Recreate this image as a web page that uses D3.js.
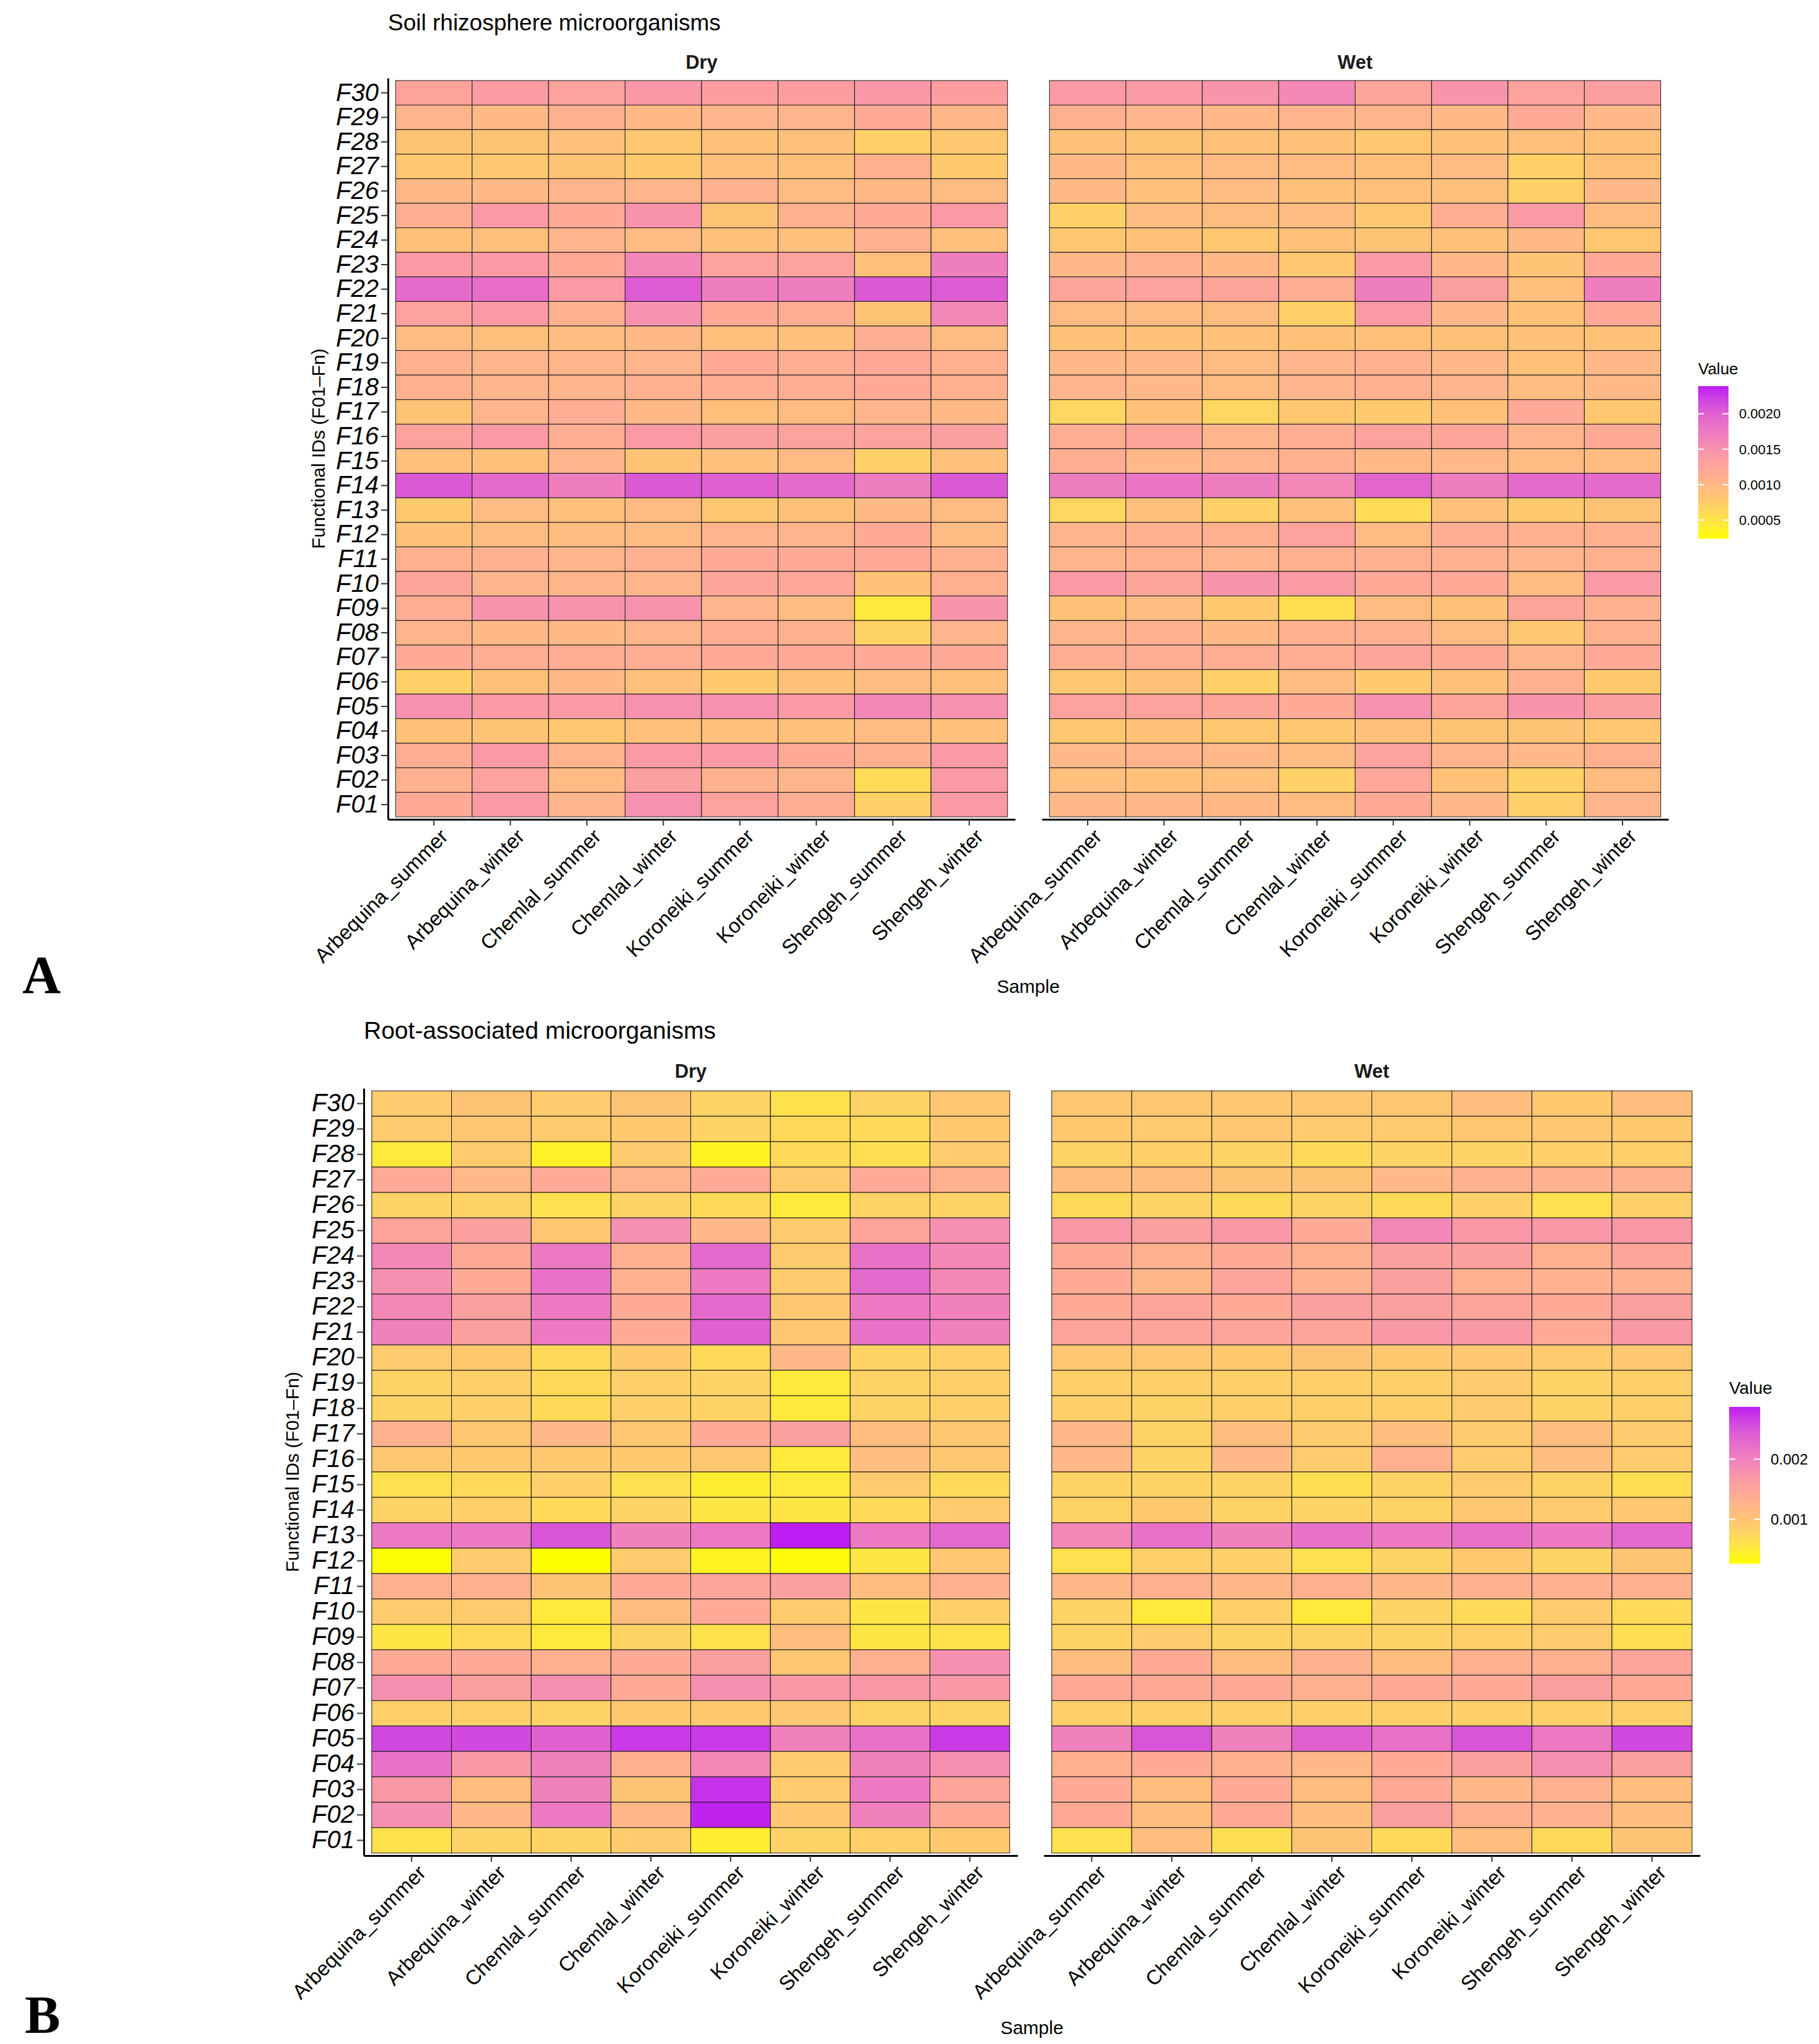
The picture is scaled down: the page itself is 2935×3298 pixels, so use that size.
<!DOCTYPE html>
<html>
<head>
<meta charset="utf-8">
<script src="https://cdn.jsdelivr.net/npm/d3@7/dist/d3.min.js"></script>
<style>
  body { margin: 0; background: #fff; }
  text { font-family: "Liberation Sans", Arial, sans-serif; fill: #000; }
</style>
</head>
<body>
<svg id="chart"></svg>
<script>
'use strict';

// sample order on the x axis
var samples = ['Arbequina_summer', 'Arbequina_winter', 'Chemlal_summer', 'Chemlal_winter',
               'Koroneiki_summer', 'Koroneiki_winter', 'Shengeh_summer', 'Shengeh_winter'];

// functional IDs, top row first (as drawn)
var funcIds = ['F30', 'F29', 'F28', 'F27', 'F26', 'F25', 'F24', 'F23', 'F22', 'F21',
               'F20', 'F19', 'F18', 'F17', 'F16', 'F15', 'F14', 'F13', 'F12', 'F11',
               'F10', 'F09', 'F08', 'F07', 'F06', 'F05', 'F04', 'F03', 'F02', 'F01'];

// rows follow funcIds, columns follow samples
var soilDry = [
  [0.00128, 0.00138, 0.00130, 0.00142, 0.00136, 0.00136, 0.00142, 0.00136],
  [0.00105, 0.00100, 0.00110, 0.00100, 0.00105, 0.00105, 0.00120, 0.00103],
  [0.00085, 0.00085, 0.00090, 0.00080, 0.00088, 0.00090, 0.00070, 0.00080],
  [0.00080, 0.00080, 0.00085, 0.00078, 0.00090, 0.00090, 0.00110, 0.00078],
  [0.00100, 0.00100, 0.00105, 0.00105, 0.00110, 0.00097, 0.00100, 0.00097],
  [0.00115, 0.00140, 0.00120, 0.00148, 0.00085, 0.00110, 0.00120, 0.00140],
  [0.00088, 0.00092, 0.00105, 0.00097, 0.00088, 0.00092, 0.00110, 0.00092],
  [0.00140, 0.00140, 0.00120, 0.00160, 0.00130, 0.00130, 0.00090, 0.00170],
  [0.00190, 0.00188, 0.00140, 0.00203, 0.00170, 0.00170, 0.00205, 0.00203],
  [0.00130, 0.00140, 0.00110, 0.00150, 0.00120, 0.00115, 0.00085, 0.00160],
  [0.00095, 0.00092, 0.00095, 0.00100, 0.00092, 0.00090, 0.00115, 0.00095],
  [0.00110, 0.00105, 0.00105, 0.00105, 0.00118, 0.00115, 0.00120, 0.00110],
  [0.00110, 0.00105, 0.00105, 0.00110, 0.00115, 0.00115, 0.00120, 0.00110],
  [0.00085, 0.00105, 0.00115, 0.00100, 0.00090, 0.00095, 0.00105, 0.00100],
  [0.00130, 0.00140, 0.00115, 0.00140, 0.00135, 0.00130, 0.00130, 0.00135],
  [0.00092, 0.00088, 0.00105, 0.00085, 0.00092, 0.00097, 0.00070, 0.00092],
  [0.00205, 0.00190, 0.00170, 0.00205, 0.00200, 0.00190, 0.00170, 0.00205],
  [0.00078, 0.00097, 0.00092, 0.00097, 0.00080, 0.00088, 0.00100, 0.00097],
  [0.00088, 0.00095, 0.00095, 0.00097, 0.00105, 0.00105, 0.00118, 0.00097],
  [0.00110, 0.00110, 0.00105, 0.00110, 0.00118, 0.00118, 0.00120, 0.00110],
  [0.00125, 0.00105, 0.00105, 0.00105, 0.00125, 0.00122, 0.00087, 0.00110],
  [0.00115, 0.00148, 0.00148, 0.00148, 0.00105, 0.00095, 0.00045, 0.00145],
  [0.00105, 0.00100, 0.00100, 0.00105, 0.00115, 0.00110, 0.00068, 0.00105],
  [0.00118, 0.00115, 0.00115, 0.00115, 0.00120, 0.00118, 0.00118, 0.00118],
  [0.00070, 0.00088, 0.00100, 0.00090, 0.00078, 0.00087, 0.00095, 0.00090],
  [0.00150, 0.00140, 0.00140, 0.00150, 0.00150, 0.00140, 0.00160, 0.00150],
  [0.00087, 0.00085, 0.00080, 0.00090, 0.00090, 0.00090, 0.00097, 0.00090],
  [0.00115, 0.00140, 0.00105, 0.00140, 0.00140, 0.00118, 0.00110, 0.00140],
  [0.00110, 0.00130, 0.00097, 0.00135, 0.00110, 0.00105, 0.00060, 0.00140],
  [0.00118, 0.00140, 0.00105, 0.00150, 0.00130, 0.00115, 0.00070, 0.00140]
];

var soilWet = [
  [0.00140, 0.00140, 0.00145, 0.00160, 0.00125, 0.00145, 0.00130, 0.00135],
  [0.00110, 0.00105, 0.00102, 0.00105, 0.00105, 0.00100, 0.00118, 0.00102],
  [0.00088, 0.00085, 0.00088, 0.00088, 0.00080, 0.00087, 0.00090, 0.00088],
  [0.00100, 0.00092, 0.00097, 0.00097, 0.00090, 0.00097, 0.00070, 0.00088],
  [0.00100, 0.00092, 0.00097, 0.00088, 0.00092, 0.00092, 0.00070, 0.00102],
  [0.00070, 0.00095, 0.00095, 0.00095, 0.00080, 0.00115, 0.00140, 0.00095],
  [0.00080, 0.00088, 0.00080, 0.00088, 0.00085, 0.00088, 0.00100, 0.00080],
  [0.00102, 0.00110, 0.00100, 0.00080, 0.00140, 0.00102, 0.00085, 0.00120],
  [0.00125, 0.00130, 0.00125, 0.00115, 0.00170, 0.00135, 0.00092, 0.00170],
  [0.00097, 0.00097, 0.00095, 0.00070, 0.00140, 0.00102, 0.00087, 0.00120],
  [0.00087, 0.00087, 0.00087, 0.00087, 0.00088, 0.00088, 0.00087, 0.00087],
  [0.00102, 0.00102, 0.00097, 0.00105, 0.00110, 0.00102, 0.00087, 0.00102],
  [0.00105, 0.00102, 0.00097, 0.00105, 0.00110, 0.00105, 0.00095, 0.00100],
  [0.00065, 0.00088, 0.00065, 0.00080, 0.00078, 0.00088, 0.00120, 0.00080],
  [0.00115, 0.00125, 0.00105, 0.00115, 0.00130, 0.00125, 0.00105, 0.00120],
  [0.00115, 0.00102, 0.00105, 0.00110, 0.00100, 0.00102, 0.00097, 0.00095],
  [0.00170, 0.00180, 0.00170, 0.00160, 0.00195, 0.00170, 0.00190, 0.00190],
  [0.00065, 0.00090, 0.00070, 0.00092, 0.00060, 0.00090, 0.00078, 0.00085],
  [0.00105, 0.00110, 0.00110, 0.00130, 0.00097, 0.00115, 0.00110, 0.00110],
  [0.00105, 0.00110, 0.00105, 0.00110, 0.00110, 0.00110, 0.00105, 0.00110],
  [0.00140, 0.00125, 0.00145, 0.00138, 0.00120, 0.00118, 0.00095, 0.00140],
  [0.00087, 0.00095, 0.00078, 0.00055, 0.00095, 0.00087, 0.00125, 0.00110],
  [0.00105, 0.00110, 0.00100, 0.00110, 0.00110, 0.00097, 0.00080, 0.00110],
  [0.00115, 0.00115, 0.00115, 0.00115, 0.00125, 0.00118, 0.00105, 0.00118],
  [0.00080, 0.00088, 0.00070, 0.00095, 0.00078, 0.00088, 0.00110, 0.00078],
  [0.00130, 0.00130, 0.00125, 0.00120, 0.00150, 0.00125, 0.00145, 0.00135],
  [0.00080, 0.00087, 0.00080, 0.00080, 0.00090, 0.00085, 0.00085, 0.00080],
  [0.00102, 0.00105, 0.00102, 0.00097, 0.00130, 0.00105, 0.00102, 0.00110],
  [0.00092, 0.00088, 0.00092, 0.00070, 0.00122, 0.00087, 0.00070, 0.00095],
  [0.00102, 0.00102, 0.00100, 0.00095, 0.00120, 0.00102, 0.00072, 0.00105]
];

var rootDry = [
  [0.00090, 0.00100, 0.00090, 0.00100, 0.00080, 0.00060, 0.00080, 0.00095],
  [0.00090, 0.00095, 0.00090, 0.00092, 0.00080, 0.00070, 0.00070, 0.00092],
  [0.00050, 0.00090, 0.00042, 0.00090, 0.00040, 0.00070, 0.00065, 0.00090],
  [0.00140, 0.00120, 0.00140, 0.00125, 0.00140, 0.00090, 0.00140, 0.00130],
  [0.00080, 0.00080, 0.00062, 0.00080, 0.00070, 0.00050, 0.00080, 0.00080],
  [0.00150, 0.00160, 0.00095, 0.00180, 0.00120, 0.00090, 0.00150, 0.00180],
  [0.00190, 0.00140, 0.00210, 0.00130, 0.00230, 0.00090, 0.00220, 0.00190],
  [0.00180, 0.00140, 0.00220, 0.00130, 0.00210, 0.00090, 0.00230, 0.00190],
  [0.00190, 0.00160, 0.00210, 0.00140, 0.00230, 0.00095, 0.00210, 0.00200],
  [0.00200, 0.00160, 0.00210, 0.00140, 0.00240, 0.00095, 0.00220, 0.00200],
  [0.00090, 0.00092, 0.00070, 0.00092, 0.00070, 0.00120, 0.00080, 0.00085],
  [0.00080, 0.00085, 0.00070, 0.00085, 0.00080, 0.00050, 0.00080, 0.00085],
  [0.00080, 0.00085, 0.00070, 0.00085, 0.00080, 0.00050, 0.00080, 0.00085],
  [0.00130, 0.00095, 0.00120, 0.00095, 0.00140, 0.00160, 0.00110, 0.00095],
  [0.00095, 0.00092, 0.00092, 0.00092, 0.00095, 0.00050, 0.00110, 0.00095],
  [0.00062, 0.00070, 0.00085, 0.00062, 0.00045, 0.00050, 0.00090, 0.00070],
  [0.00080, 0.00085, 0.00070, 0.00080, 0.00055, 0.00055, 0.00070, 0.00090],
  [0.00210, 0.00210, 0.00250, 0.00200, 0.00210, 0.00287, 0.00210, 0.00230],
  [0.00028, 0.00090, 0.00026, 0.00090, 0.00040, 0.00030, 0.00055, 0.00095],
  [0.00130, 0.00130, 0.00100, 0.00140, 0.00150, 0.00160, 0.00110, 0.00130],
  [0.00090, 0.00090, 0.00050, 0.00110, 0.00140, 0.00090, 0.00055, 0.00085],
  [0.00055, 0.00070, 0.00050, 0.00080, 0.00060, 0.00110, 0.00055, 0.00060],
  [0.00140, 0.00140, 0.00130, 0.00140, 0.00160, 0.00095, 0.00130, 0.00180],
  [0.00180, 0.00160, 0.00180, 0.00140, 0.00180, 0.00170, 0.00170, 0.00170],
  [0.00085, 0.00085, 0.00080, 0.00092, 0.00092, 0.00095, 0.00080, 0.00080],
  [0.00260, 0.00260, 0.00240, 0.00270, 0.00270, 0.00200, 0.00220, 0.00270],
  [0.00220, 0.00170, 0.00200, 0.00130, 0.00190, 0.00090, 0.00200, 0.00180],
  [0.00170, 0.00110, 0.00200, 0.00100, 0.00275, 0.00090, 0.00210, 0.00150],
  [0.00180, 0.00120, 0.00210, 0.00120, 0.00284, 0.00095, 0.00200, 0.00140],
  [0.00060, 0.00080, 0.00080, 0.00090, 0.00045, 0.00080, 0.00085, 0.00092]
];

var rootWet = [
  [0.00095, 0.00095, 0.00095, 0.00095, 0.00095, 0.00110, 0.00092, 0.00110],
  [0.00092, 0.00090, 0.00095, 0.00090, 0.00090, 0.00095, 0.00095, 0.00092],
  [0.00080, 0.00085, 0.00080, 0.00070, 0.00080, 0.00080, 0.00085, 0.00085],
  [0.00110, 0.00110, 0.00100, 0.00100, 0.00120, 0.00130, 0.00130, 0.00130],
  [0.00070, 0.00080, 0.00070, 0.00080, 0.00070, 0.00085, 0.00062, 0.00085],
  [0.00170, 0.00160, 0.00170, 0.00140, 0.00190, 0.00170, 0.00170, 0.00170],
  [0.00140, 0.00130, 0.00140, 0.00130, 0.00160, 0.00160, 0.00130, 0.00150],
  [0.00140, 0.00120, 0.00150, 0.00130, 0.00160, 0.00130, 0.00130, 0.00130],
  [0.00140, 0.00150, 0.00140, 0.00160, 0.00160, 0.00150, 0.00140, 0.00160],
  [0.00150, 0.00150, 0.00150, 0.00150, 0.00170, 0.00170, 0.00140, 0.00170],
  [0.00095, 0.00095, 0.00092, 0.00100, 0.00092, 0.00095, 0.00090, 0.00095],
  [0.00085, 0.00085, 0.00085, 0.00085, 0.00085, 0.00090, 0.00080, 0.00085],
  [0.00085, 0.00080, 0.00085, 0.00085, 0.00085, 0.00090, 0.00080, 0.00085],
  [0.00120, 0.00080, 0.00110, 0.00090, 0.00110, 0.00090, 0.00110, 0.00090],
  [0.00120, 0.00080, 0.00120, 0.00090, 0.00130, 0.00090, 0.00110, 0.00090],
  [0.00080, 0.00080, 0.00080, 0.00065, 0.00080, 0.00090, 0.00080, 0.00065],
  [0.00080, 0.00092, 0.00080, 0.00080, 0.00080, 0.00095, 0.00090, 0.00095],
  [0.00190, 0.00220, 0.00200, 0.00220, 0.00210, 0.00220, 0.00210, 0.00230],
  [0.00062, 0.00085, 0.00085, 0.00062, 0.00080, 0.00092, 0.00080, 0.00100],
  [0.00120, 0.00130, 0.00120, 0.00130, 0.00120, 0.00130, 0.00130, 0.00130],
  [0.00080, 0.00050, 0.00085, 0.00050, 0.00080, 0.00070, 0.00090, 0.00070],
  [0.00080, 0.00090, 0.00080, 0.00080, 0.00080, 0.00085, 0.00090, 0.00065],
  [0.00110, 0.00140, 0.00110, 0.00130, 0.00110, 0.00130, 0.00130, 0.00150],
  [0.00140, 0.00140, 0.00140, 0.00130, 0.00140, 0.00140, 0.00160, 0.00140],
  [0.00085, 0.00085, 0.00085, 0.00085, 0.00085, 0.00085, 0.00085, 0.00085],
  [0.00200, 0.00250, 0.00200, 0.00240, 0.00220, 0.00250, 0.00210, 0.00260],
  [0.00130, 0.00140, 0.00130, 0.00120, 0.00140, 0.00160, 0.00180, 0.00160],
  [0.00140, 0.00110, 0.00140, 0.00110, 0.00140, 0.00120, 0.00130, 0.00110],
  [0.00140, 0.00110, 0.00140, 0.00110, 0.00160, 0.00130, 0.00130, 0.00110],
  [0.00062, 0.00110, 0.00065, 0.00100, 0.00070, 0.00110, 0.00070, 0.00100]
];

// colour bar limits and breaks, read from the two legends
var soilLimits = [0.00024, 0.00239];
var rootLimits = [0.00026, 0.00287];
var soilBreaks = [0.0005, 0.0010, 0.0015, 0.0020];
var rootBreaks = [0.001, 0.002];

// gradient (relative position along the bar -> colour)
var gradStops  = [0, 0.10, 0.20, 0.28, 0.36, 0.45, 0.52, 0.59, 0.67, 0.75, 0.82, 0.90, 1];
var gradColors = ['#ffff00', '#ffe840', '#ffd464', '#ffc474', '#ffb888', '#ffa898', '#fc9ea0',
                  '#f690b0', '#f080be', '#e870c8', '#e060d0', '#d048e0', '#be1ef2'];

var W = 2935, H = 3298;

var svg = d3.select('#chart')
    .attr('width', W)
    .attr('height', H)
    .attr('viewBox', '0 0 ' + W + ' ' + H);

svg.append('rect').attr('width', W).attr('height', H).attr('fill', '#fff');

function colourScale(limits) {
    var dom = gradStops.map(function (t) { return limits[0] + t * (limits[1] - limits[0]); });
    return d3.scaleLinear().domain(dom).range(gradColors).clamp(true);
}

function heatmap(cfg) {
    var g = svg.append('g');
    var colour = colourScale(cfg.limits);

    var y = d3.scaleBand()
        .domain(funcIds)
        .range(cfg.yRange)
        .paddingInner(0)
        .paddingOuter(0.1);

    // title
    g.append('text')
        .attr('x', cfg.panels[0].x[0])
        .attr('y', cfg.titleY)
        .style('font-size', cfg.titleSize + 'px')
        .text(cfg.title);

    cfg.panels.forEach(function (p, pi) {
        var x = d3.scaleBand()
            .domain(samples)
            .range(p.x)
            .paddingInner(0)
            .paddingOuter(0.1);

        // strip label
        g.append('text')
            .attr('x', (p.x[0] + p.x[1]) / 2)
            .attr('y', cfg.stripY)
            .attr('text-anchor', 'middle')
            .style('font-size', '31px')
            .style('font-weight', 'bold')
            .style('fill', '#1a1a1a')
            .text(p.name);

        var cells = [];
        p.values.forEach(function (row, ri) {
            row.forEach(function (v, ci) {
                cells.push({ id: funcIds[ri], sample: samples[ci], value: v });
            });
        });

        g.append('g')
            .selectAll('rect')
            .data(cells)
            .enter()
            .append('rect')
            .attr('x', function (d) { return x(d.sample); })
            .attr('y', function (d) { return y(d.id); })
            .attr('width', x.bandwidth())
            .attr('height', y.bandwidth())
            .attr('fill', function (d) { return colour(d.value); })
            .attr('stroke', '#1a1a1a')
            .attr('stroke-width', 1);

        // x axis
        var xAxis = g.append('g')
            .attr('transform', 'translate(0,' + cfg.yRange[1] + ')')
            .call(d3.axisBottom(x).tickSize(10).tickSizeOuter(0).tickPadding(0));
        xAxis.select('.domain').attr('stroke', '#000').attr('stroke-width', 3);
        xAxis.selectAll('.tick line').attr('stroke', '#333').attr('stroke-width', 2);
        xAxis.selectAll('.tick text').remove();
        xAxis.selectAll('.tick')
            .append('text')
            .attr('transform', 'translate(8,' + cfg.xLabelGap + ') rotate(-45)')
            .attr('text-anchor', 'end')
            .attr('dy', '0.72em')
            .style('font-size', '33px')
            .style('fill', '#000')
            .text(function (d) { return d; });

        // y axis only on the first panel
        if (pi === 0) {
            var yAxis = g.append('g')
                .attr('transform', 'translate(' + p.x[0] + ',0)')
                .call(d3.axisLeft(y).tickSize(11).tickSizeOuter(0).tickPadding(4));
            yAxis.select('.domain').attr('stroke', '#000').attr('stroke-width', 3);
            yAxis.selectAll('.tick line').attr('stroke', '#333').attr('stroke-width', 2);
            yAxis.selectAll('.tick text')
                .style('font-size', '40px')
                .style('font-style', 'italic')
                .style('fill', '#000')
                .attr('font-family', null);
        }
    });

    // axis titles
    g.append('text')
        .attr('transform', 'translate(' + cfg.yTitleX + ',' + ((cfg.yRange[0] + cfg.yRange[1]) / 2) + ') rotate(-90)')
        .attr('text-anchor', 'middle')
        .attr('dy', '0.35em')
        .style('font-size', '30px')
        .text('Functional IDs (F01\u2013Fn)');

    g.append('text')
        .attr('x', (cfg.panels[0].x[0] + cfg.panels[1].x[1]) / 2)
        .attr('y', cfg.sampleY)
        .attr('text-anchor', 'middle')
        .style('font-size', '30px')
        .text('Sample');

    // panel letter
    g.append('text')
        .attr('x', cfg.letterX)
        .attr('y', cfg.letterY)
        .style('font-family', '"Liberation Serif", "DejaVu Serif", serif')
        .style('font-weight', 'bold')
        .style('font-size', '86px')
        .text(cfg.letter);

    // colour bar legend
    var lg = cfg.legend;
    var gradId = 'grad' + cfg.letter;
    var grad = svg.append('defs').append('linearGradient')
        .attr('id', gradId)
        .attr('x1', '0').attr('y1', '1').attr('x2', '0').attr('y2', '0');
    grad.selectAll('stop')
        .data(gradStops)
        .enter()
        .append('stop')
        .attr('offset', function (d) { return d; })
        .attr('stop-color', function (d, i) { return gradColors[i]; });

    g.append('text')
        .attr('x', lg.x)
        .attr('y', lg.titleY)
        .style('font-size', lg.titleSize + 'px')
        .text('Value');

    g.append('rect')
        .attr('x', lg.x)
        .attr('y', lg.y0)
        .attr('width', lg.w)
        .attr('height', lg.y1 - lg.y0)
        .attr('fill', 'url(#' + gradId + ')');

    var ly = d3.scaleLinear().domain(cfg.limits).range([lg.y1, lg.y0]);
    var ticks = g.append('g').selectAll('g')
        .data(cfg.breaks)
        .enter()
        .append('g')
        .attr('transform', function (d) { return 'translate(0,' + ly(d) + ')'; });
    ticks.append('line')
        .attr('x1', lg.x).attr('x2', lg.x + lg.w * 0.2)
        .attr('stroke', '#fff').attr('stroke-width', 2);
    ticks.append('line')
        .attr('x1', lg.x + lg.w * 0.8).attr('x2', lg.x + lg.w)
        .attr('stroke', '#fff').attr('stroke-width', 2);
    ticks.append('text')
        .attr('x', lg.x + lg.w + 17)
        .attr('dy', '0.35em')
        .style('font-size', lg.labelSize + 'px')
        .text(function (d) { return d3.format(cfg.breakFormat)(d); });
}

heatmap({
    title: 'Soil rhizosphere microorganisms',
    titleY: 49,
    titleSize: 37,
    stripY: 111,
    yRange: [126, 1322],
    panels: [
        { name: 'Dry', x: [626, 1638], values: soilDry },
        { name: 'Wet', x: [1681, 2692], values: soilWet }
    ],
    xLabelGap: 13,
    yTitleX: 513,
    sampleY: 1602,
    letter: 'A',
    letterX: 36,
    letterY: 1602,
    limits: soilLimits,
    breaks: soilBreaks,
    breakFormat: '.4f',
    legend: { x: 2740, w: 49, y0: 623, y1: 869, titleY: 604, titleSize: 26, labelSize: 22 }
});

heatmap({
    title: 'Root-associated microorganisms',
    titleY: 1676,
    titleSize: 39,
    stripY: 1739,
    yRange: [1756, 2994],
    panels: [
        { name: 'Dry', x: [587, 1642], values: rootDry },
        { name: 'Wet', x: [1684, 2743], values: rootWet }
    ],
    xLabelGap: 13,
    yTitleX: 471,
    sampleY: 3282,
    letter: 'B',
    letterX: 40,
    letterY: 3280,
    limits: rootLimits,
    breaks: rootBreaks,
    breakFormat: '.3f',
    legend: { x: 2790, w: 50, y0: 2270, y1: 2523, titleY: 2249, titleSize: 28, labelSize: 24 }
});
</script>
</body>
</html>
